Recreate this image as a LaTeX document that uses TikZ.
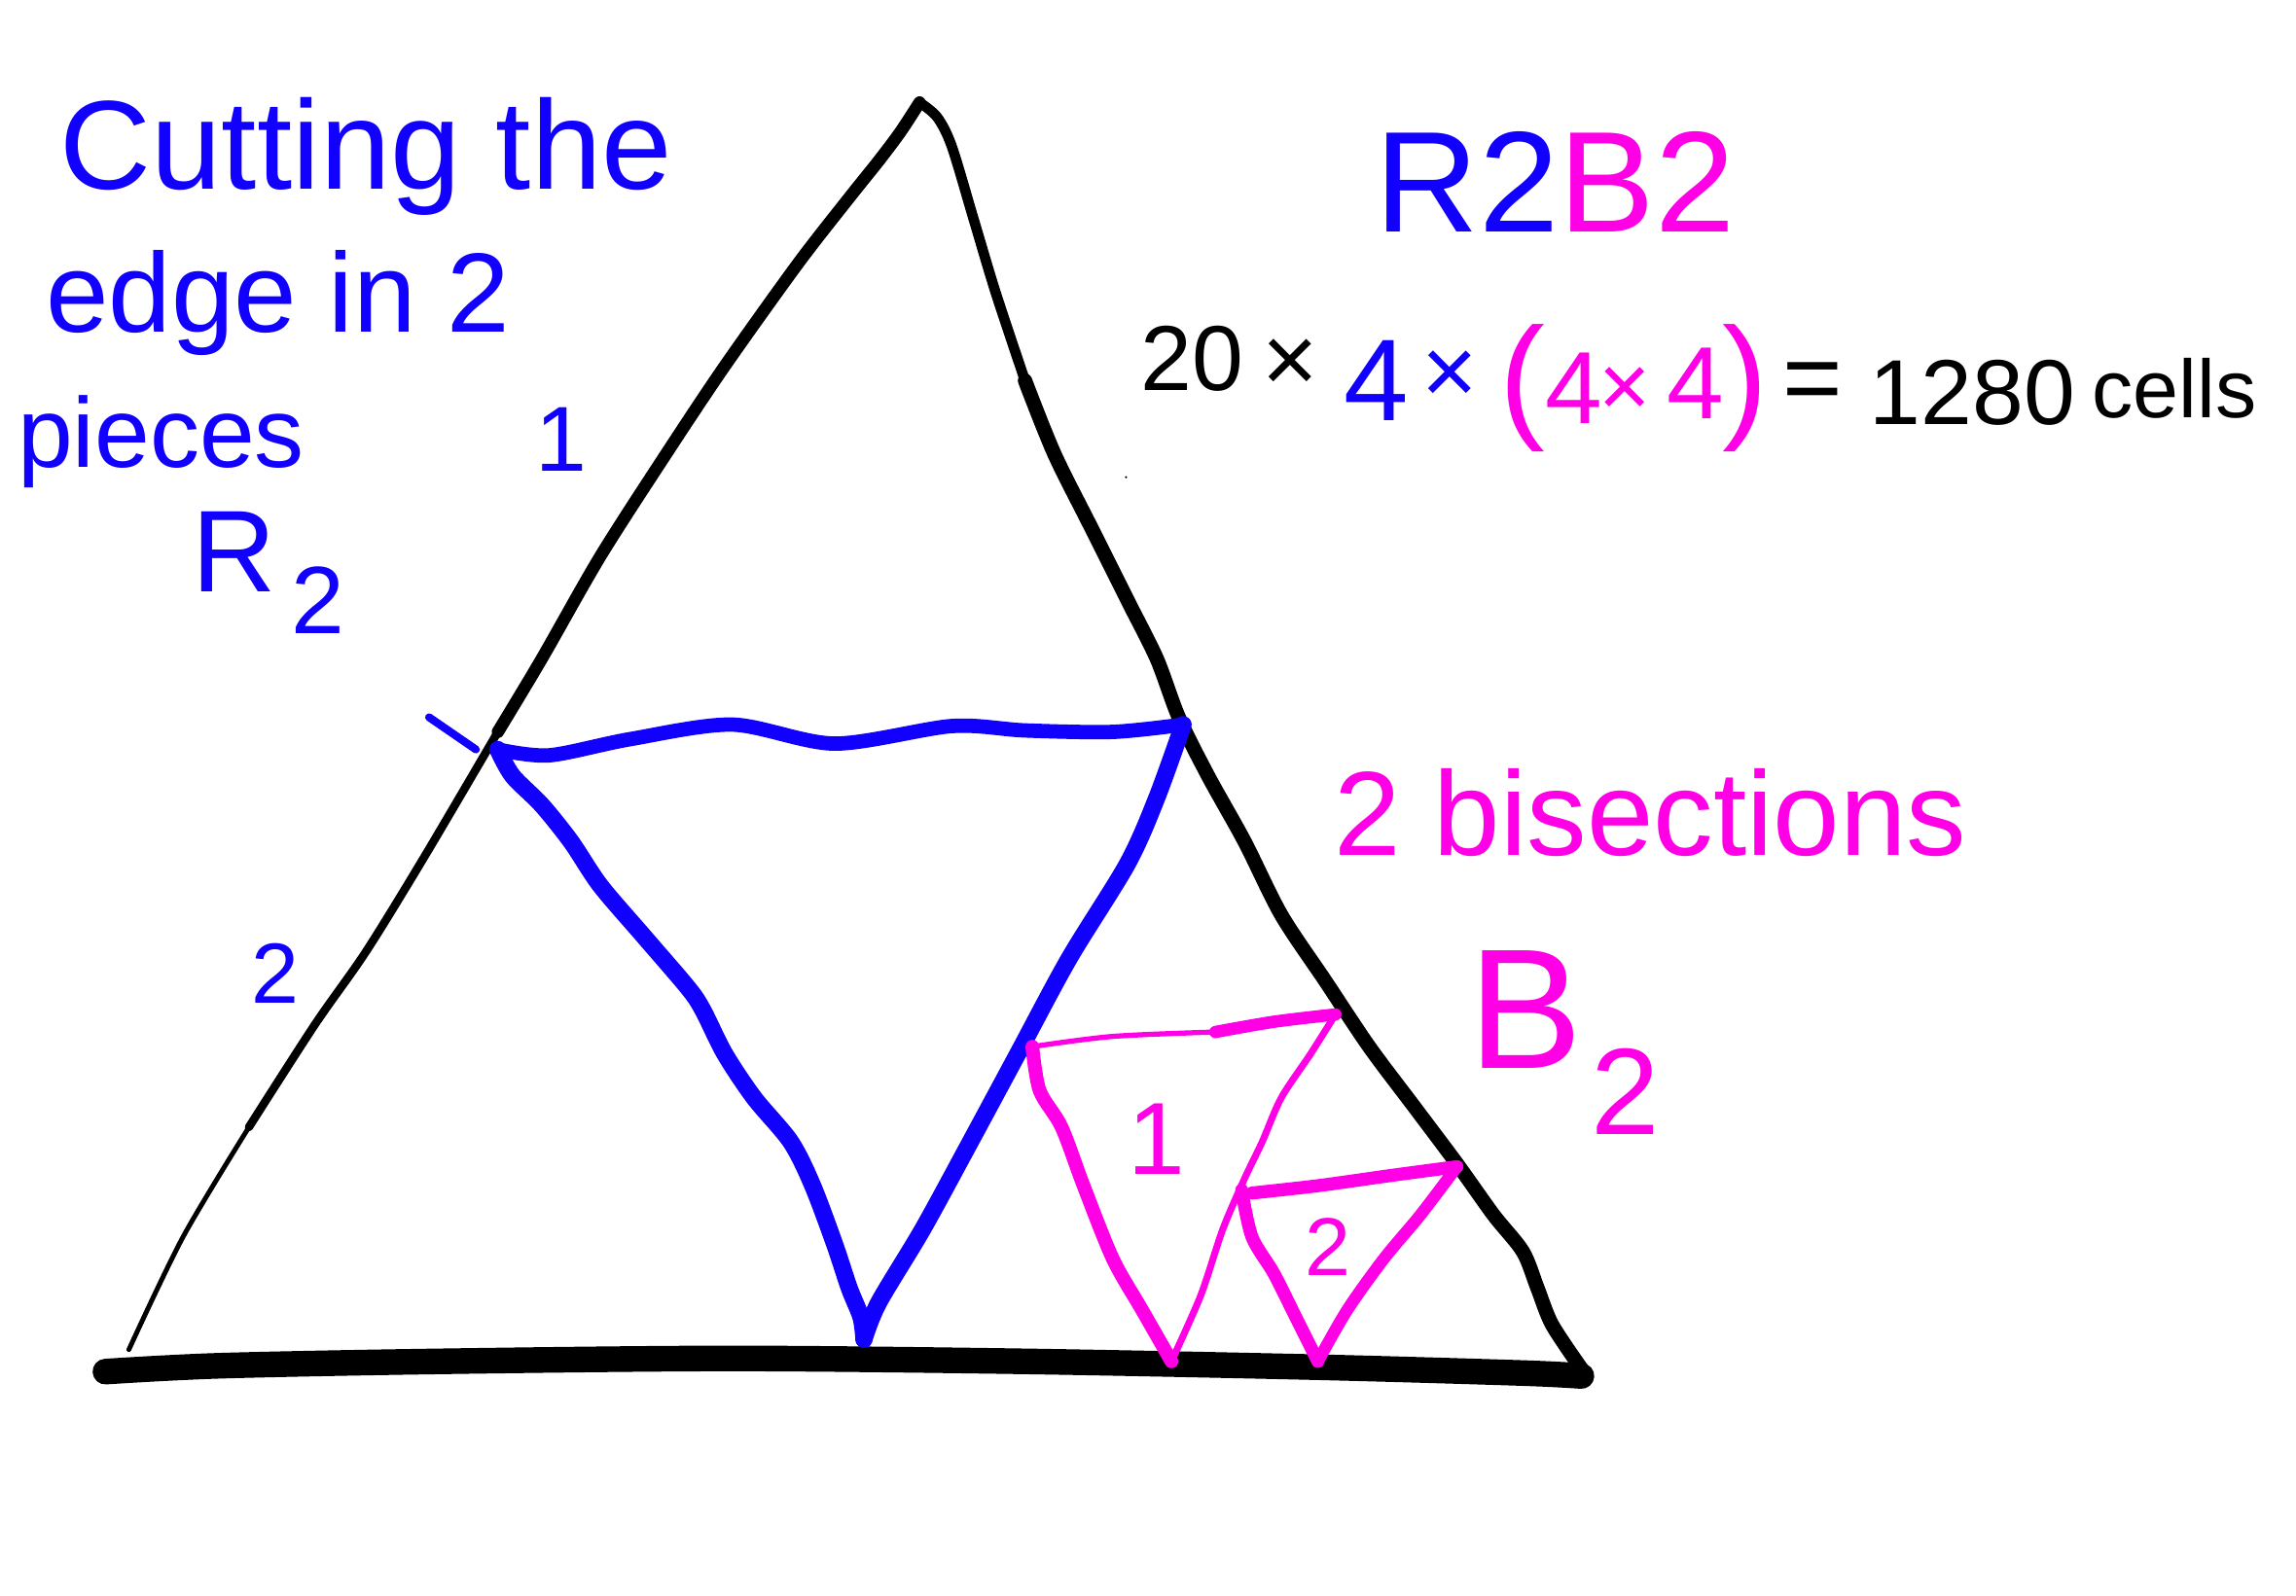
\documentclass[tikz,border=0pt]{standalone}
\usepackage{fontspec}
\setmainfont{Liberation Sans}
\definecolor{pblue}{RGB}{18,0,255}
\definecolor{pmag}{RGB}{255,0,230}
\begin{document}
\begin{tikzpicture}[x=0.01505cm,y=-0.01505cm,
  ink/.style={line cap=round,line join=round},
  lbl/.style={inner sep=0pt,outer sep=0pt},
  fs/.style={font=\fontsize{#1}{#1}\selectfont}]
\fill[white] (0,0) rectangle (1568,1090);
% black outer triangle
\draw[ink,line width=3.6pt] plot[smooth,tension=0.5] coordinates {(628,70) (615,90) (600,110) (580,135) (545,180) (495,250) (455,310) (410,380) (370,450) (340,500)};
\draw[ink,line width=2.4pt] plot[smooth,tension=0.5] coordinates {(340,500) (290,585) (250,650) (215,700) (170,770)};
\draw[ink,line width=1.4pt] plot[smooth,tension=0.5] coordinates {(170,770) (125,845) (88,922)};
\draw[ink,line width=3pt] plot[smooth,tension=0.5] coordinates {(628,70) (640,80) (650,100) (665,150) (680,200) (700,260)};
\draw[ink,line width=4.2pt] plot[smooth,tension=0.5] coordinates {(700,260) (720,310) (745,360) (770,410) (790,450) (805,490) (825,530) (850,575) (875,625) (905,670) (935,715) (965,755) (995,795) (1020,830) (1040,855) (1050,880) (1060,905) (1080,935)};
\draw[ink,line width=7.5pt] plot[smooth,tension=0.5] coordinates {(1080,940) (1040,938) (900,934) (700,930) (500,928) (300,930) (150,933) (72,937)};
\fill (769,326) circle (0.8);
% blue inner triangle
\draw[pblue,ink,line width=2.3pt] (293,490) -- (325,512);
\draw[pblue,ink,line width=4.2pt] plot[smooth,tension=0.5] coordinates {(340,512) (375,516) (430,505) (500,495) (570,508) (650,496) (700,499) (760,500) (808,495)};
\draw[pblue,ink,line width=5pt] plot[smooth,tension=0.5] coordinates {(340,512) (350,530) (370,550) (390,575) (410,605) (440,640) (470,675) (480,690) (495,720) (515,750) (540,780) (555,810) (570,850) (580,880) (588,900) (590,915)};
\draw[pblue,ink,line width=5pt] plot[smooth,tension=0.5] coordinates {(590,915) (600,890) (630,840) (660,785) (695,720) (730,655) (770,590) (790,545) (808,495)};
% magenta triangle 1
\draw[pmag,ink,line width=1.5pt] plot[smooth,tension=0.5] coordinates {(705,715) (760,708) (830,705)};
\draw[pmag,ink,line width=3.6pt] plot[smooth,tension=0.5] coordinates {(830,705) (870,698) (912,693)};
\draw[pmag,ink,line width=2pt] plot[smooth,tension=0.5] coordinates {(912,693) (895,720) (875,750) (862,780) (850,805) (835,840) (820,885) (800,930)};
\draw[pmag,ink,line width=4pt] plot[smooth,tension=0.5] coordinates {(705,715) (710,745) (725,770) (740,810) (760,860) (780,895) (800,930)};
% magenta triangle 2
\draw[pmag,ink,line width=3.8pt] plot[smooth,tension=0.5] coordinates {(855,815) (900,810) (950,803) (995,797)};
\draw[pmag,ink,line width=3.5pt] plot[smooth,tension=0.5] coordinates {(995,797) (970,830) (945,860) (920,895) (900,930)};
\draw[pmag,ink,line width=3.8pt] plot[smooth,tension=0.5] coordinates {(848,813) (855,845) (870,870) (885,900) (900,930)};
% texts
\node[lbl,pblue,fs=37] (t1) at (250,107) {Cutting the};
\node[lbl,pblue,fs=33] (t2) at (190,207) {edge in 2};
\node[lbl,pblue,fs=29] (t3) at (110,302) {pieces};
\node[lbl,pblue,fs=34] (r) at (160,377) {R};
\node[lbl,pblue,fs=28] (r2) at (217,410) {2};
\node[lbl,pblue,fs=27] (n1) at (383,300) {1};
\node[lbl,pblue,fs=25] (n2) at (188,665) {2};
\node[lbl,fs=42] (r2b2) at (1062,124) {\textcolor{pblue}{R2}\textcolor{pmag}{B2}};
\node[lbl,fs=27] (f1) at (814,245) {20};
\node[lbl,fs=28] (f2) at (881,250) {×};
\node[lbl,pblue,fs=34] (f3) at (940,260) {4};
\node[lbl,pblue,fs=28] (f4) at (990,258) {×};
\node[lbl,pmag,fs=40] (p1) at (1040,265) {(};
\node[lbl,pmag,fs=30] (f5) at (1075,265) {4};
\node[lbl,pmag,fs=26] (f6) at (1110,268) {×};
\node[lbl,pmag,fs=30] (f7) at (1158,262) {4};
\node[lbl,pmag,fs=40] (p2) at (1192,265) {)};
\node[lbl,fs=30] (eq) at (1238,265) {=};
\node[lbl,fs=27] (f8) at (1347,268) {1280};
\node[lbl,fs=24] (f9) at (1485,265) {cells};
\node[lbl,pmag,fs=35] (bis) at (1127,555) {2 bisections};
\node[lbl,pmag,fs=50] (b) at (1042,690) {B};
\node[lbl,pmag,fs=36] (b2) at (1110,746) {2};
\node[lbl,pmag,fs=30] (m1) at (790,778) {1};
\node[lbl,pmag,fs=24] (m2) at (907,852) {2};
\end{tikzpicture}
\end{document}
